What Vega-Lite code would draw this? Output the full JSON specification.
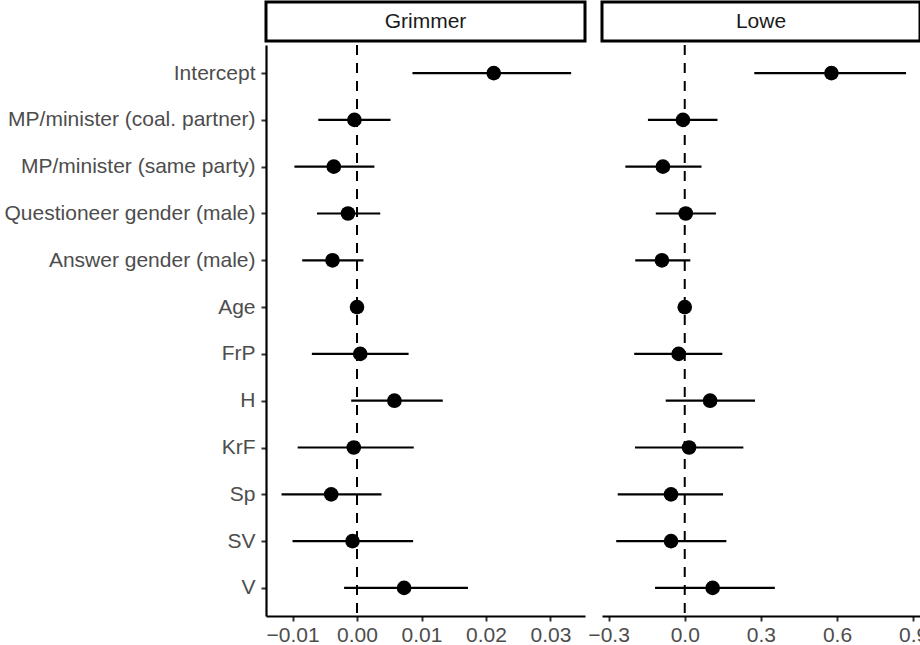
{
  "$schema": "https://vega.github.io/schema/vega-lite/v6.json",
  "padding": {"left": 4, "top": 0, "right": 0, "bottom": 0},
  "background": "white",
  "spacing": 0,
  "config": {
    "font": "Liberation Sans",
    "view": {"stroke": null},
    "axis": {
      "domainColor": "black",
      "domainWidth": 2.2,
      "tickColor": "#333333",
      "tickWidth": 2,
      "tickSize": 5,
      "labelFont": "Liberation Sans",
      "labelFontSize": 21,
      "labelColor": "#4D4D4D",
      "labelLimit": 0,
      "grid": false
    }
  },
  "datasets": {
    "coef": [
      {"model": "Grimmer", "term": "Intercept", "est": 0.0212, "lo": 0.0086, "hi": 0.0332},
      {"model": "Grimmer", "term": "MP/minister (coal. partner)", "est": -0.0004, "lo": -0.0060, "hi": 0.0052},
      {"model": "Grimmer", "term": "MP/minister (same party)", "est": -0.0036, "lo": -0.0097, "hi": 0.0027},
      {"model": "Grimmer", "term": "Questioneer gender (male)", "est": -0.0014, "lo": -0.0062, "hi": 0.0036},
      {"model": "Grimmer", "term": "Answer gender (male)", "est": -0.0038, "lo": -0.0085, "hi": 0.0010},
      {"model": "Grimmer", "term": "Age", "est": 0.0000, "lo": -0.0002, "hi": 0.0002},
      {"model": "Grimmer", "term": "FrP", "est": 0.0005, "lo": -0.0070, "hi": 0.0080},
      {"model": "Grimmer", "term": "H", "est": 0.0058, "lo": -0.0009, "hi": 0.0133},
      {"model": "Grimmer", "term": "KrF", "est": -0.0005, "lo": -0.0092, "hi": 0.0088},
      {"model": "Grimmer", "term": "Sp", "est": -0.0040, "lo": -0.0117, "hi": 0.0038},
      {"model": "Grimmer", "term": "SV", "est": -0.0007, "lo": -0.0100, "hi": 0.0087},
      {"model": "Grimmer", "term": "V", "est": 0.0073, "lo": -0.0020, "hi": 0.0172},
      {"model": "Lowe", "term": "Intercept", "est": 0.578, "lo": 0.274, "hi": 0.872},
      {"model": "Lowe", "term": "MP/minister (coal. partner)", "est": -0.007, "lo": -0.145, "hi": 0.129},
      {"model": "Lowe", "term": "MP/minister (same party)", "est": -0.086, "lo": -0.234, "hi": 0.066},
      {"model": "Lowe", "term": "Questioneer gender (male)", "est": 0.004, "lo": -0.114, "hi": 0.123},
      {"model": "Lowe", "term": "Answer gender (male)", "est": -0.090, "lo": -0.195, "hi": 0.022},
      {"model": "Lowe", "term": "Age", "est": 0.000, "lo": -0.005, "hi": 0.005},
      {"model": "Lowe", "term": "FrP", "est": -0.024, "lo": -0.199, "hi": 0.148},
      {"model": "Lowe", "term": "H", "est": 0.100, "lo": -0.075, "hi": 0.277},
      {"model": "Lowe", "term": "KrF", "est": 0.017, "lo": -0.196, "hi": 0.231},
      {"model": "Lowe", "term": "Sp", "est": -0.054, "lo": -0.264, "hi": 0.151},
      {"model": "Lowe", "term": "SV", "est": -0.054, "lo": -0.270, "hi": 0.164},
      {"model": "Lowe", "term": "V", "est": 0.110, "lo": -0.117, "hi": 0.355}
    ],
    "ref": [{"zero": 0}]
  },
  "hconcat": [
    {
      "spacing": 1,
      "vconcat": [
        {
          "data": {"values": [{"panel": "Grimmer"}]},
          "width": 319,
          "height": 39,
          "view": {"stroke": "black", "strokeWidth": 3, "fill": "white"},
          "mark": {"type": "text", "fontSize": 21, "color": "#1A1A1A", "baseline": "middle", "font": "Liberation Sans"},
          "encoding": {"text": {"field": "panel"}}
        },
        {
          "width": 319,
          "height": 571,
          "data": {"name": "coef"},
          "transform": [{"filter": "datum.model === 'Grimmer'"}],
          "encoding": {
            "y": {
              "field": "term",
              "type": "nominal",
              "title": null,
              "sort": ["Intercept", "MP/minister (coal. partner)", "MP/minister (same party)", "Questioneer gender (male)", "Answer gender (male)", "Age", "FrP", "H", "KrF", "Sp", "SV", "V"],
              "scale": {"type": "point", "padding": 0.6},
              "axis": {"labelPadding": 6}
            }
          },
          "layer": [
            {
              "data": {"name": "ref"},
              "mark": {"type": "rule", "strokeDash": [10, 8], "strokeWidth": 2, "color": "black"},
              "encoding": {
                "x": {"field": "zero", "type": "quantitative"},
                "y": null
              }
            },
            {
              "mark": {"type": "rule", "strokeWidth": 2.2, "color": "black"},
              "encoding": {
                "x": {
                  "field": "lo",
                  "type": "quantitative",
                  "title": null,
                  "scale": {"domain": [-0.01411, 0.03535], "nice": false, "zero": false},
                  "axis": {"values": [-0.01, 0, 0.01, 0.02, 0.03], "format": ".2f", "labelPadding": 3}
                },
                "x2": {"field": "hi"}
              }
            },
            {
              "mark": {"type": "point", "filled": true, "size": 215, "color": "black", "opacity": 1},
              "encoding": {"x": {"field": "est", "type": "quantitative"}}
            }
          ]
        }
      ]
    },
    {
      "spacing": 1,
      "vconcat": [
        {
          "data": {"values": [{"panel": "Lowe"}]},
          "width": 318,
          "height": 39,
          "view": {"stroke": "black", "strokeWidth": 3, "fill": "white"},
          "mark": {"type": "text", "fontSize": 21, "color": "#1A1A1A", "baseline": "middle", "font": "Liberation Sans"},
          "encoding": {"text": {"field": "panel"}}
        },
        {
          "width": 318,
          "height": 571,
          "data": {"name": "coef"},
          "transform": [{"filter": "datum.model === 'Lowe'"}],
          "encoding": {
            "y": {
              "field": "term",
              "type": "nominal",
              "title": null,
              "sort": ["Intercept", "MP/minister (coal. partner)", "MP/minister (same party)", "Questioneer gender (male)", "Answer gender (male)", "Age", "FrP", "H", "KrF", "Sp", "SV", "V"],
              "scale": {"type": "point", "padding": 0.6},
              "axis": null
            }
          },
          "layer": [
            {
              "data": {"name": "ref"},
              "mark": {"type": "rule", "strokeDash": [10, 8], "strokeWidth": 2, "color": "black"},
              "encoding": {
                "x": {"field": "zero", "type": "quantitative"},
                "y": null
              }
            },
            {
              "mark": {"type": "rule", "strokeWidth": 2.2, "color": "black"},
              "encoding": {
                "x": {
                  "field": "lo",
                  "type": "quantitative",
                  "title": null,
                  "scale": {"domain": [-0.326, 0.927], "nice": false, "zero": false},
                  "axis": {"values": [-0.3, 0, 0.3, 0.6, 0.9], "format": ".1f", "labelPadding": 3}
                },
                "x2": {"field": "hi"}
              }
            },
            {
              "mark": {"type": "point", "filled": true, "size": 215, "color": "black", "opacity": 1},
              "encoding": {"x": {"field": "est", "type": "quantitative"}}
            }
          ]
        }
      ]
    }
  ]
}
